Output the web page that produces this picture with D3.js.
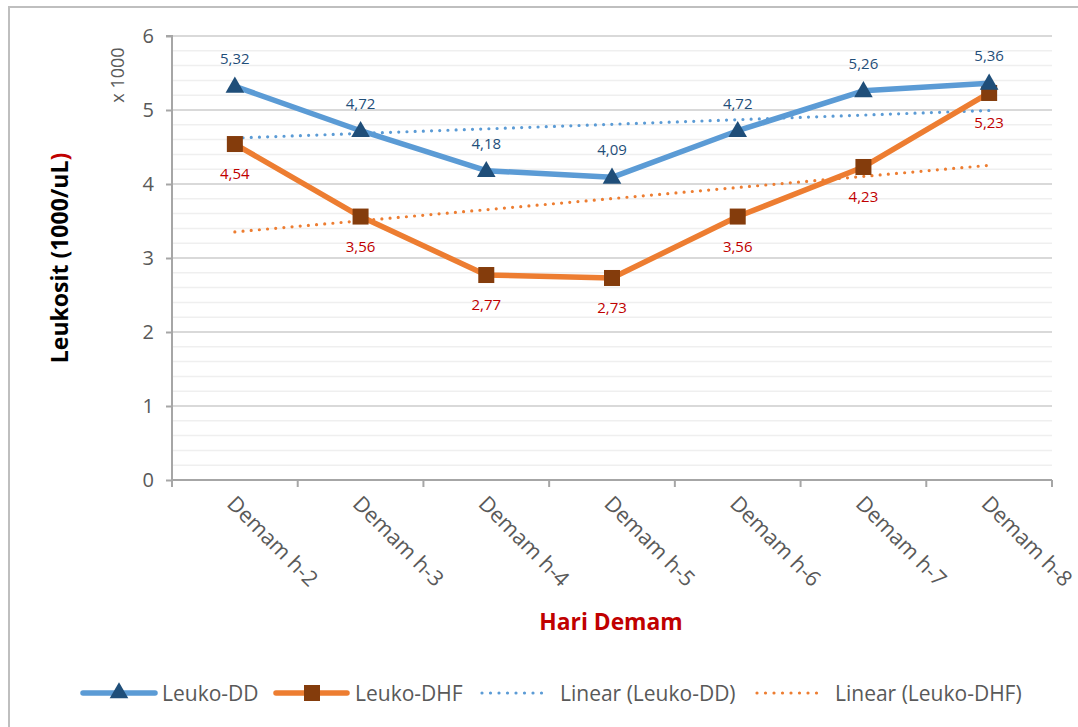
<!DOCTYPE html>
<html>
<head>
<meta charset="utf-8">
<script src="https://cdn.jsdelivr.net/npm/d3@7"></script>
<style>
  html, body { margin: 0; padding: 0; background: #fff; }
  svg { display: block; font-family: "Open Sans", "Noto Sans", sans-serif; }
</style>
</head>
<body>
<svg id="chart" width="1078" height="727"></svg>
<script>
// Hari demam (kategori sumbu X)
const categories = ["Demam h-2", "Demam h-3", "Demam h-4", "Demam h-5", "Demam h-6", "Demam h-7", "Demam h-8"];
// Rata-rata leukosit (x 1000/uL)
const leukoDD  = [5.32, 4.72, 4.18, 4.09, 4.72, 5.26, 5.36];
const leukoDHF = [4.54, 3.56, 2.77, 2.73, 3.56, 4.23, 5.23];
// Label sumbu Y
const yTicks = [0, 1, 2, 3, 4, 5, 6];

const FONT = "'Open Sans', 'Noto Sans', sans-serif";
const svg = d3.select("#chart");
const margin = { left: 172, right: 1052, top: 36, bottom: 480 };

const x = d3.scaleBand().domain(categories).range([margin.left, margin.right]).padding(0);
const y = d3.scaleLinear().domain([0, 6]).range([margin.bottom, margin.top]);
const cx = c => x(c) + x.bandwidth() / 2;

// Bingkai luar
svg.append("rect")
  .attr("x", 9).attr("y", 7).attr("width", 1200).attr("height", 800)
  .attr("fill", "none").attr("stroke", "#BFBFBF").attr("stroke-width", 2);

// Garis bantu minor (0,2) dan mayor (1)
const minor = d3.range(0, 6.0001, 0.2).filter(v => Math.abs(v - Math.round(v)) > 1e-6);
svg.append("g").selectAll("line").data(minor).join("line")
  .attr("x1", margin.left).attr("x2", margin.right)
  .attr("y1", d => y(d)).attr("y2", d => y(d))
  .attr("stroke", "#EFEFEF").attr("stroke-width", 1.5);
svg.append("g").selectAll("line").data(yTicks.filter(v => v > 0)).join("line")
  .attr("x1", margin.left).attr("x2", margin.right)
  .attr("y1", d => y(d)).attr("y2", d => y(d))
  .attr("stroke", "#D9D9D9").attr("stroke-width", 2);

// Sumbu Y
const yAxis = svg.append("g")
  .attr("transform", `translate(${margin.left},0)`)
  .call(d3.axisLeft(y).tickValues(yTicks).tickSize(6).tickPadding(12).tickFormat(d3.format("d")));
yAxis.select(".domain").attr("stroke", "#A6A6A6").attr("stroke-width", 2)
  .attr("d", `M-6,${y(6)}H0V${y(0)}`);
yAxis.selectAll(".tick line").attr("stroke", "#A6A6A6").attr("stroke-width", 2);
yAxis.selectAll(".tick text").attr("fill", "#595959").attr("font-size", 20)
  .attr("font-family", FONT);

// Sumbu X
const xAxis = svg.append("g")
  .attr("transform", `translate(0,${margin.bottom})`)
  .call(d3.axisBottom(x).tickSize(0).tickFormat(""));
xAxis.select(".domain").attr("stroke", "#A6A6A6").attr("stroke-width", 2)
  .attr("d", `M${margin.left},0H${margin.right}`);
xAxis.selectAll(".tick").remove();
const bounds = categories.map(c => x(c)).concat([margin.right]);
svg.append("g").selectAll("line").data(bounds).join("line")
  .attr("x1", d => d).attr("x2", d => d)
  .attr("y1", margin.bottom).attr("y2", margin.bottom + 7)
  .attr("stroke", "#A6A6A6").attr("stroke-width", 2);

// Label kategori miring
svg.append("g").selectAll("text").data(categories).join("text")
  .attr("transform", d => `translate(${cx(d) - 9},${margin.bottom + 25}) rotate(45)`)
  .attr("fill", "#595959").attr("font-size", 21.5)
  .text(d => d);

// Judul sumbu
svg.append("text")
  .attr("x", 611).attr("y", 630)
  .attr("text-anchor", "middle").attr("font-weight", "bold")
  .attr("font-size", 22.8).attr("fill", "#C00000")
  .text("Hari Demam");
const yt = svg.append("text")
  .attr("transform", "translate(68,258) rotate(-90)")
  .attr("text-anchor", "middle").attr("font-weight", "bold")
  .attr("font-size", 23).attr("fill", "#000");
yt.append("tspan").text("Leukosit (1000/uL");
yt.append("tspan").attr("fill", "#C00000").text(")");

svg.append("text")
  .attr("transform", "translate(124,75) rotate(-90)")
  .attr("text-anchor", "middle").attr("font-size", 18).attr("fill", "#595959")
  .text("x 1000");

// Garis tren linear (regresi kuadrat terkecil)
function linearFit(vals) {
  const n = vals.length;
  const xs = d3.range(1, n + 1);
  const mx = d3.mean(xs), my = d3.mean(vals);
  const b = d3.sum(xs, (xi, i) => (xi - mx) * (vals[i] - my)) / d3.sum(xs, xi => (xi - mx) ** 2);
  const a = my - b * mx;
  return xs.map(xi => a + b * xi);
}
const line = d3.line().x((d, i) => cx(categories[i])).y(d => y(d));

[[leukoDD, "#5B9BD5"], [leukoDHF, "#ED7D31"]].forEach(([vals, col]) => {
  svg.append("path")
    .attr("d", line(linearFit(vals)))
    .attr("fill", "none").attr("stroke", col).attr("stroke-width", 3.2)
    .attr("stroke-linecap", "round").attr("stroke-dasharray", "0 8.2");
});

// Seri Leuko-DHF
svg.append("path").attr("d", line(leukoDHF))
  .attr("fill", "none").attr("stroke", "#ED7D31").attr("stroke-width", 5.5)
  .attr("stroke-linejoin", "round");
svg.append("g").selectAll("rect").data(leukoDHF).join("rect")
  .attr("x", (d, i) => cx(categories[i]) - 8).attr("y", d => y(d) - 8)
  .attr("width", 16).attr("height", 16).attr("fill", "#843C0C");

// Seri Leuko-DD
svg.append("path").attr("d", line(leukoDD))
  .attr("fill", "none").attr("stroke", "#5B9BD5").attr("stroke-width", 5.5)
  .attr("stroke-linejoin", "round");
const tri = d3.symbol().type(d3.symbolTriangle).size(150);
svg.append("g").selectAll("path").data(leukoDD).join("path")
  .attr("transform", (d, i) => `translate(${cx(categories[i])},${y(d) + 1})`)
  .attr("d", tri).attr("fill", "#1F4E79");

// Label data
const fmt = v => d3.format(".2f")(v).replace(".", ",");
svg.append("g").selectAll("text").data(leukoDD).join("text")
  .attr("x", (d, i) => cx(categories[i])).attr("y", d => y(d) - 22)
  .attr("text-anchor", "middle").attr("font-size", 15).attr("fill", "#1F4E79")
  .text(fmt);
svg.append("g").selectAll("text").data(leukoDHF).join("text")
  .attr("x", (d, i) => cx(categories[i])).attr("y", d => y(d) + 35)
  .attr("text-anchor", "middle").attr("font-size", 15).attr("fill", "#C00000")
  .text(fmt);

// Legenda
const legY = 693;
const leg = svg.append("g");
const legText = (xPos, label) => leg.append("text")
  .attr("x", xPos).attr("y", legY + 7.5).attr("font-size", 21).attr("fill", "#595959").text(label);
// Leuko-DD
leg.append("line").attr("x1", 83).attr("x2", 155).attr("y1", legY).attr("y2", legY)
  .attr("stroke", "#5B9BD5").attr("stroke-width", 5.5).attr("stroke-linecap", "round");
leg.append("path").attr("transform", `translate(119,${legY})`).attr("d", tri).attr("fill", "#1F4E79");
legText(162, "Leuko-DD");
// Leuko-DHF
leg.append("line").attr("x1", 276).attr("x2", 347).attr("y1", legY).attr("y2", legY)
  .attr("stroke", "#ED7D31").attr("stroke-width", 5.5).attr("stroke-linecap", "round");
leg.append("rect").attr("x", 304).attr("y", legY - 8).attr("width", 16).attr("height", 16).attr("fill", "#843C0C");
legText(355, "Leuko-DHF");
// Linear (Leuko-DD)
leg.append("line").attr("x1", 482).attr("x2", 550).attr("y1", legY).attr("y2", legY)
  .attr("stroke", "#5B9BD5").attr("stroke-width", 3.2).attr("stroke-linecap", "round")
  .attr("stroke-dasharray", "0 8.5");
legText(560, "Linear (Leuko-DD)");
// Linear (Leuko-DHF)
leg.append("line").attr("x1", 757).attr("x2", 825).attr("y1", legY).attr("y2", legY)
  .attr("stroke", "#ED7D31").attr("stroke-width", 3.2).attr("stroke-linecap", "round")
  .attr("stroke-dasharray", "0 8.5");
legText(835, "Linear (Leuko-DHF)");
</script>
</body>
</html>
